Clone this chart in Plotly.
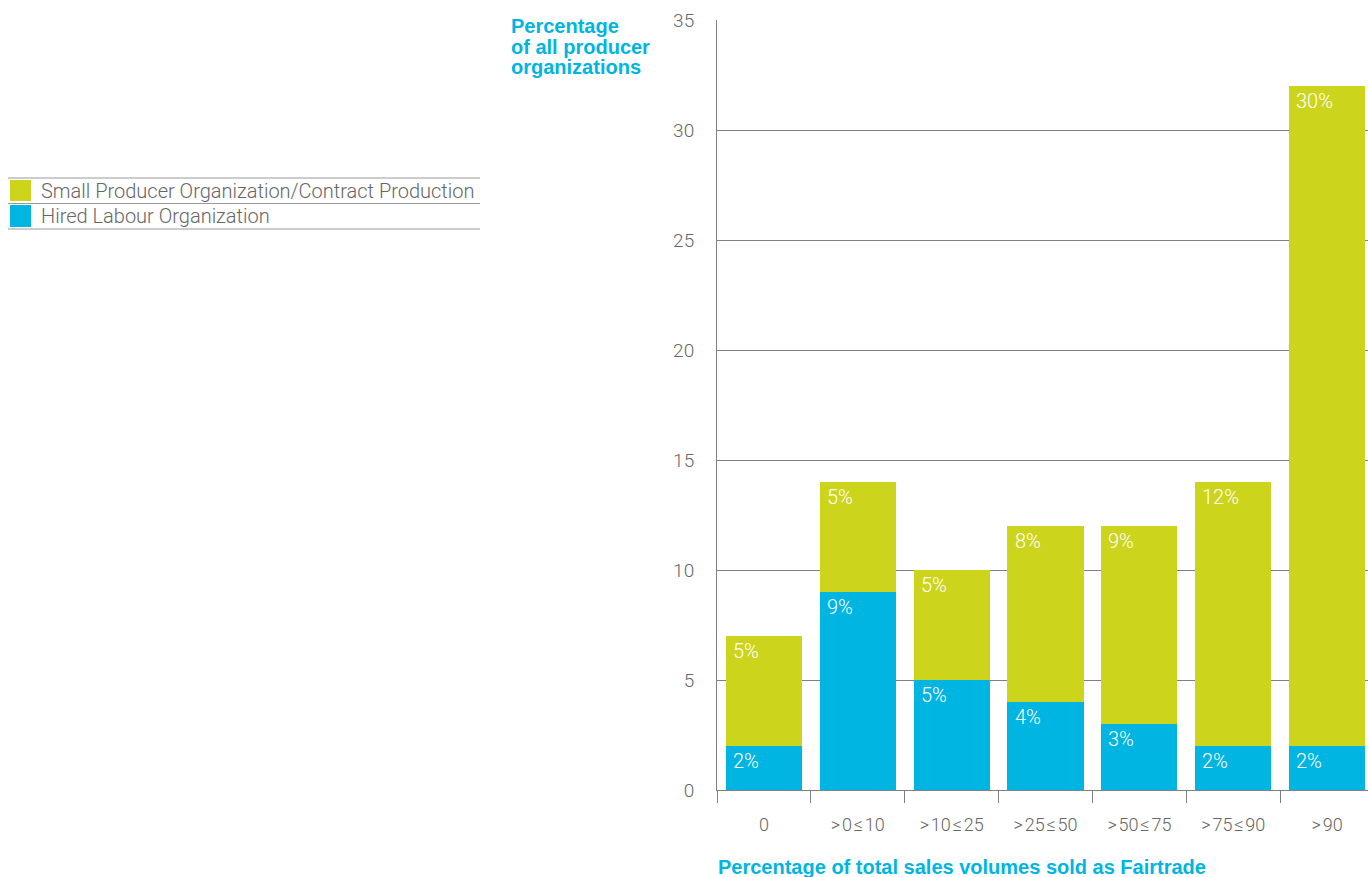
import plotly.graph_objects as go

categories = ["0", ">\u200a0\u200a\u2264\u200a10", ">\u200a10\u200a\u2264\u200a25", ">\u200a25\u200a\u2264\u200a50",
              ">\u200a50\u200a\u2264\u200a75", ">\u200a75\u200a\u2264\u200a90", ">\u200a90"]
hired_labour = [2, 9, 5, 4, 3, 2, 2]
small_producer = [5, 5, 5, 8, 9, 12, 30]
series_names = ["Small Producer Organization/Contract Production", "Hired Labour Organization"]
y_ticks = [0, 5, 10, 15, 20, 25, 30, 35]
y_title_lines = ["Percentage", "of all producer", "organizations"]
x_title = "Percentage of total sales volumes sold as Fairtrade"

GREEN = "#CDD41C"
CYAN = "#00B5E2"
GRAY = "#666666"
LINE = "#808080"
FONT = "Roboto"

W, H = 1368, 877
L, R, T, B = 717, 0, 20, 87
PW, PH = W - L - R, H - T - B


def px(x):
    return (x - L) / PW


def py(y):
    return (H - B - y) / PH


fig = go.Figure()
fig.add_trace(go.Bar(x=categories, y=hired_labour, name=series_names[1],
                     marker=dict(color=CYAN, line=dict(width=0)), showlegend=False))
fig.add_trace(go.Bar(x=categories, y=small_producer, name=series_names[0],
                     marker=dict(color=GREEN, line=dict(width=0)), showlegend=False))

annotations = []
label_font = dict(family=FONT, size=20, color="white", weight=300)
for i, c in enumerate(categories):
    annotations.append(dict(x=c, y=hired_labour[i], xref="x", yref="y", text=f"{hired_labour[i]}%",
                            showarrow=False, xanchor="left", yanchor="top", xshift=-33, yshift=-1,
                            font=label_font))
    top = hired_labour[i] + small_producer[i]
    annotations.append(dict(x=c, y=top, xref="x", yref="y", text=f"{small_producer[i]}%",
                            showarrow=False, xanchor="left", yanchor="top", xshift=-33, yshift=-1,
                            font=label_font))

# axis titles
title_font = dict(family="Liberation Sans", size=20, color=CYAN, weight=700)
for k, line in enumerate(y_title_lines):
    annotations.append(dict(x=px(509), y=py(26 + 20.5 * k), xref="paper", yref="paper", xanchor="left",
                            yanchor="middle", showarrow=False, text=line, font=title_font))
annotations.append(dict(x=px(716), y=py(867), xref="paper", yref="paper", xanchor="left", yanchor="middle",
                        showarrow=False, text=x_title, font=title_font))

shapes = []
# legend (manual)
legend_rows = [(series_names[0], GREEN, 180, 201), (series_names[1], CYAN, 205, 227)]
for yline in [178, 203.5, 229]:
    shapes.append(dict(type="line", xref="paper", yref="paper", x0=px(8), x1=px(480), y0=py(yline), y1=py(yline),
                       line=dict(color="#999999", width=1)))
for name, col, y0, y1 in legend_rows:
    shapes.append(dict(type="rect", xref="paper", yref="paper", x0=px(10), x1=px(31), y0=py(y0), y1=py(y1),
                       fillcolor=col, line=dict(width=0)))
    annotations.append(dict(x=px(39), y=py((y0 + y1) / 2), xref="paper", yref="paper", xanchor="left",
                            yanchor="middle", showarrow=False, text=name,
                            font=dict(family=FONT, size=20, color=GRAY, weight=300)))

fig.update_layout(
    width=W, height=H,
    margin=dict(l=L, r=R, t=T, b=B, autoexpand=False),
    plot_bgcolor="white", paper_bgcolor="white",
    barmode="stack", bargap=0.19,
    annotations=annotations, shapes=shapes,
    showlegend=False,
    font=dict(family=FONT, color=GRAY, weight=300),
)
fig.update_xaxes(
    type="category", range=[-0.5, 6.436],
    showline=True, linecolor=LINE, linewidth=1,
    ticks="outside", tickson="boundaries", ticklen=12, tickcolor=LINE, tickwidth=1,
    tickfont=dict(family=FONT, size=18, color=GRAY, weight=300),
    ticklabelstandoff=18,
    showgrid=False, zeroline=False,
)
fig.update_yaxes(
    range=[0, 35], tickvals=y_ticks,
    showgrid=True, gridcolor=LINE, gridwidth=1,
    showline=True, linecolor=LINE, linewidth=1,
    zeroline=False, ticks="",
    tickfont=dict(family=FONT, size=19, color=GRAY, weight=300),
    ticklabelstandoff=18,
)

fig.write_html("out.html")
